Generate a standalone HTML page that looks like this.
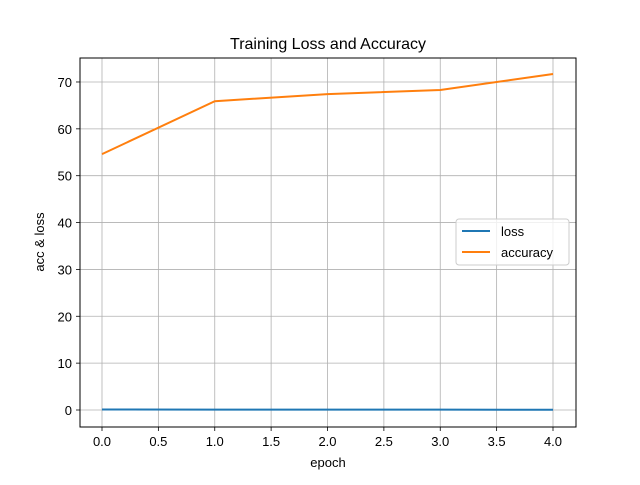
<!DOCTYPE html>
<html><head><meta charset="utf-8"><style>
body{margin:0;background:#fff}
svg{font-family:"Liberation Sans","DejaVu Sans",sans-serif}
</style></head><body>
<svg id="chart" width="640" height="480" viewBox="0 0 640 480">
<rect width="640" height="480" fill="#fff"/>
<text x="328" y="49" font-size="16" text-anchor="middle">Training Loss and Accuracy</text>
<g id="grid"></g>
<g id="ticks"></g>
<g id="series"></g>
<rect x="80" y="58" width="496" height="369" fill="none" stroke="#000" stroke-width="1"/>
<text x="328" y="467" font-size="13" text-anchor="middle">epoch</text>
<text transform="translate(44,242) rotate(-90)" font-size="13" text-anchor="middle">acc &amp; loss</text>
<g>
<rect x="456" y="219" width="113" height="46" rx="3" fill="#fff" fill-opacity="0.8" stroke="#ccc"/>
<line x1="462" y1="231" x2="490" y2="231" stroke="#1f77b4" stroke-width="2"/>
<text x="501" y="236" font-size="13">loss</text>
<line x1="462" y1="252" x2="490" y2="252" stroke="#ff7f0e" stroke-width="2"/>
<text x="501" y="257" font-size="13">accuracy</text>
</g>
</svg>
<script>
const epochs=[0,1,2,3,4];
const lossValues=[0.1,0.08,0.07,0.07,0.06];
const accuracyValues=[54.6,65.9,67.4,68.3,71.7];
const xTicks=[0,0.5,1,1.5,2,2.5,3,3.5,4];
const yTicks=[0,10,20,30,40,50,60,70];
const NS="http://www.w3.org/2000/svg";
const xs=v=>102+v*112.75;
const ys=v=>410-v*4.686;
function mk(tag,attrs,parent){const e=document.createElementNS(NS,tag);for(const k in attrs)e.setAttribute(k,attrs[k]);parent.appendChild(e);return e;}
const grid=document.getElementById('grid'),ticks=document.getElementById('ticks'),series=document.getElementById('series');
xTicks.forEach(t=>{const x=xs(t);
 const g=mk('line',{x1:x,x2:x,y1:58,y2:427,stroke:'#b0b0b0','stroke-width':0.8},grid);
 
 
 mk('line',{x1:x,x2:x,y1:427,y2:431,stroke:'#000','stroke-width':0.8},ticks);
 const tx=mk('text',{x:x,y:446,'font-size':13,'text-anchor':'middle'},ticks);tx.textContent=t.toFixed(1);
 
 
});
yTicks.forEach(t=>{const y=ys(t);
 const g=mk('line',{x1:80,x2:576,y1:y,y2:y,stroke:'#b0b0b0','stroke-width':0.8},grid);
 
 
 mk('line',{x1:76,x2:80,y1:y,y2:y,stroke:'#000','stroke-width':0.8},ticks);
 const tx=mk('text',{x:72,y:y+5,'font-size':13,'text-anchor':'end'},ticks);tx.textContent=t;
 
 
});
const lp=mk('polyline',{points:epochs.map((e,i)=>xs(e)+','+ys(lossValues[i])).join(' '),fill:'none',stroke:'#1f77b4','stroke-width':2},series);


const ap=mk('polyline',{points:epochs.map((e,i)=>xs(e)+','+ys(accuracyValues[i])).join(' '),fill:'none',stroke:'#ff7f0e','stroke-width':2},series);


</script>
</body></html>
